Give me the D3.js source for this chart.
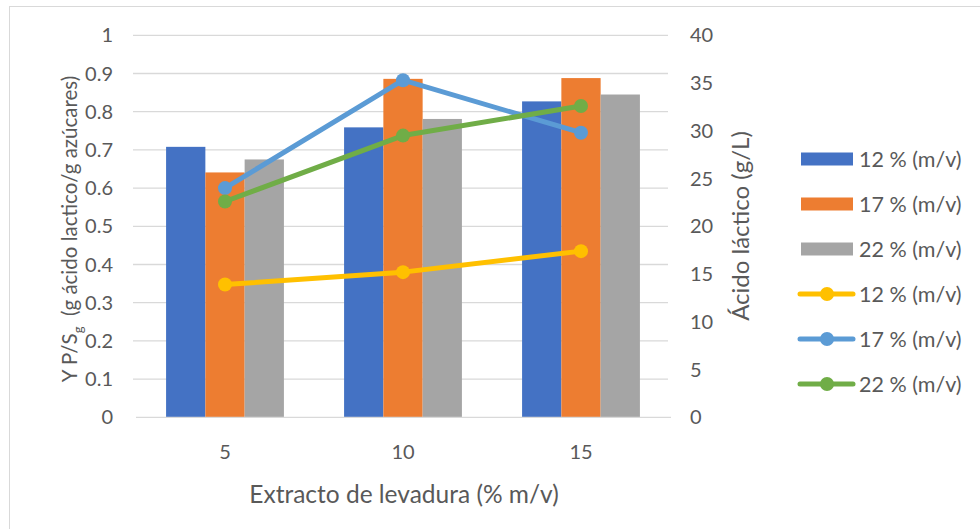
<!DOCTYPE html>
<html>
<head>
<meta charset="utf-8">
<script src="https://cdn.jsdelivr.net/npm/d3@7"></script>
<style>
  html, body { margin: 0; padding: 0; background: #fff; }
  svg text { font-family: "Lato", "Open Sans", sans-serif; fill: #595959; }
</style>
</head>
<body>
<svg id="chart" width="980" height="529"></svg>
<script>
// Yeast extract levels (% m/v)
const categories = ["5", "10", "15"];
// Series names (sugar concentration)
const seriesNames = ["12 % (m/v)", "17 % (m/v)", "22 % (m/v)"];
// Yield Y P/Sg per series (bars, left axis)
const yield12 = [0.708, 0.759, 0.827];
const yield17 = [0.641, 0.886, 0.888];
const yield22 = [0.675, 0.781, 0.845];
// Lactic acid g/L per series (lines, right axis)
const lactic12 = [13.9, 15.2, 17.4];
const lactic17 = [24.0, 35.3, 29.8];
const lactic22 = [22.6, 29.5, 32.6];
// Axis ticks
const leftTicks = [0, 0.1, 0.2, 0.3, 0.4, 0.5, 0.6, 0.7, 0.8, 0.9, 1];
const rightTicks = [0, 5, 10, 15, 20, 25, 30, 35, 40];

const barColors = ["#4472c4", "#ed7d31", "#a5a5a5"];
const lineColors = ["#ffc000", "#5b9bd5", "#70ad47"];

const svg = d3.select("#chart");
const plot = { left: 136, right: 670, top: 35.3, bottom: 417.3 };

// Chart frame
svg.append("rect")
  .attr("x", 9.5).attr("y", 6.5).attr("width", 1000).attr("height", 1000)
  .attr("fill", "none").attr("stroke", "#d9d9d9").attr("stroke-width", 1);

const x = d3.scaleBand().domain(categories).range([plot.left, plot.right]).padding(0);
const yL = d3.scaleLinear().domain([0, 1]).range([plot.bottom, plot.top]);
const yR = d3.scaleLinear().domain([0, 40]).range([plot.bottom, plot.top]);

// Gridlines
svg.append("g").selectAll("line").data(leftTicks.slice(1)).join("line")
  .attr("x1", plot.left - 3).attr("x2", plot.right - 2)
  .attr("y1", d => yL(d)).attr("y2", d => yL(d))
  .attr("stroke", "#d9d9d9").attr("stroke-width", 1.3);

// Left axis labels
svg.append("g").selectAll("text").data(leftTicks).join("text")
  .attr("x", 113).attr("y", d => yL(d)).attr("dy", "0.35em")
  .attr("text-anchor", "end").attr("font-size", 20)
  .text(d => d3.format("")(d));

// Right axis labels
svg.append("g").selectAll("text").data(rightTicks).join("text")
  .attr("x", 690).attr("y", d => yR(d)).attr("dy", "0.35em")
  .attr("text-anchor", "start").attr("font-size", 20)
  .text(d => d);

// Bars
const barSeries = [yield12, yield17, yield22];
const groupWidth = x.bandwidth() * 0.662;
const xs = d3.scaleBand().domain(d3.range(3)).range([0, groupWidth]);
barSeries.forEach((vals, si) => {
  svg.append("g").selectAll("rect").data(vals).join("rect")
    .attr("x", (d, i) => x(categories[i]) + x.bandwidth() / 2 - groupWidth / 2 + xs(si))
    .attr("width", xs.bandwidth())
    .attr("y", d => yL(d))
    .attr("height", d => yL(0) - yL(d))
    .attr("fill", barColors[si]);
});

// X axis line
svg.append("line")
  .attr("x1", plot.left).attr("x2", plot.right + 1)
  .attr("y1", plot.bottom).attr("y2", plot.bottom)
  .attr("stroke", "#d9d9d9").attr("stroke-width", 1.3);

// Category labels
svg.append("g").selectAll("text").data(categories).join("text")
  .attr("x", d => x(d) + x.bandwidth() / 2).attr("y", 452).attr("dy", "0.35em")
  .attr("text-anchor", "middle").attr("font-size", 20)
  .text(d => d);

// Lines with markers
const lineSeries = [lactic12, lactic17, lactic22];
const line = d3.line()
  .x((d, i) => x(categories[i]) + x.bandwidth() / 2)
  .y(d => yR(d));
lineSeries.forEach((vals, si) => {
  svg.append("path").datum(vals)
    .attr("d", line).attr("fill", "none")
    .attr("stroke", lineColors[si]).attr("stroke-width", 5)
    .attr("stroke-linejoin", "round").attr("stroke-linecap", "round");
  svg.append("g").selectAll("circle").data(vals).join("circle")
    .attr("cx", (d, i) => x(categories[i]) + x.bandwidth() / 2)
    .attr("cy", d => yR(d)).attr("r", 7)
    .attr("fill", lineColors[si]);
});

// Axis titles
svg.append("text")
  .attr("x", 404).attr("y", 494).attr("dy", "0.35em")
  .attr("text-anchor", "middle").attr("font-size", 24.5)
  .text("Extracto de levadura (% m/v)");

const lt = svg.append("text")
  .attr("transform", "translate(70,229) rotate(-90)")
  .attr("text-anchor", "middle").attr("dy", "0.35em").attr("font-size", 20.5);
lt.append("tspan").text("Y P/S");
lt.append("tspan").attr("font-size", 13).attr("dy", "0.45em").text("g");
lt.append("tspan").attr("dy", "-0.28em").text("\u00a0\u00a0(g ácido lactico/g azúcares)");

svg.append("text")
  .attr("transform", "translate(741,226) rotate(-90)")
  .attr("text-anchor", "middle").attr("dy", "0.35em").attr("font-size", 24)
  .text("Ácido láctico (g/L)");

// Legend
const legendRows = [159, 204, 249, 294, 339, 384];
const legend = svg.append("g");
seriesNames.forEach((name, i) => {
  const y = legendRows[i];
  legend.append("rect").attr("x", 801).attr("y", y - 6.5).attr("width", 52).attr("height", 13)
    .attr("fill", barColors[i]);
  legend.append("text").attr("x", 859).attr("y", y).attr("dy", "0.35em").attr("font-size", 21.5).text(name);
});
seriesNames.forEach((name, i) => {
  const y = legendRows[i + 3];
  legend.append("line").attr("x1", 800).attr("x2", 853).attr("y1", y).attr("y2", y)
    .attr("stroke", lineColors[i]).attr("stroke-width", 5).attr("stroke-linecap", "round");
  legend.append("circle").attr("cx", 827).attr("cy", y).attr("r", 7).attr("fill", lineColors[i]);
  legend.append("text").attr("x", 859).attr("y", y).attr("dy", "0.35em").attr("font-size", 21.5).text(name);
});
</script>
</body>
</html>
